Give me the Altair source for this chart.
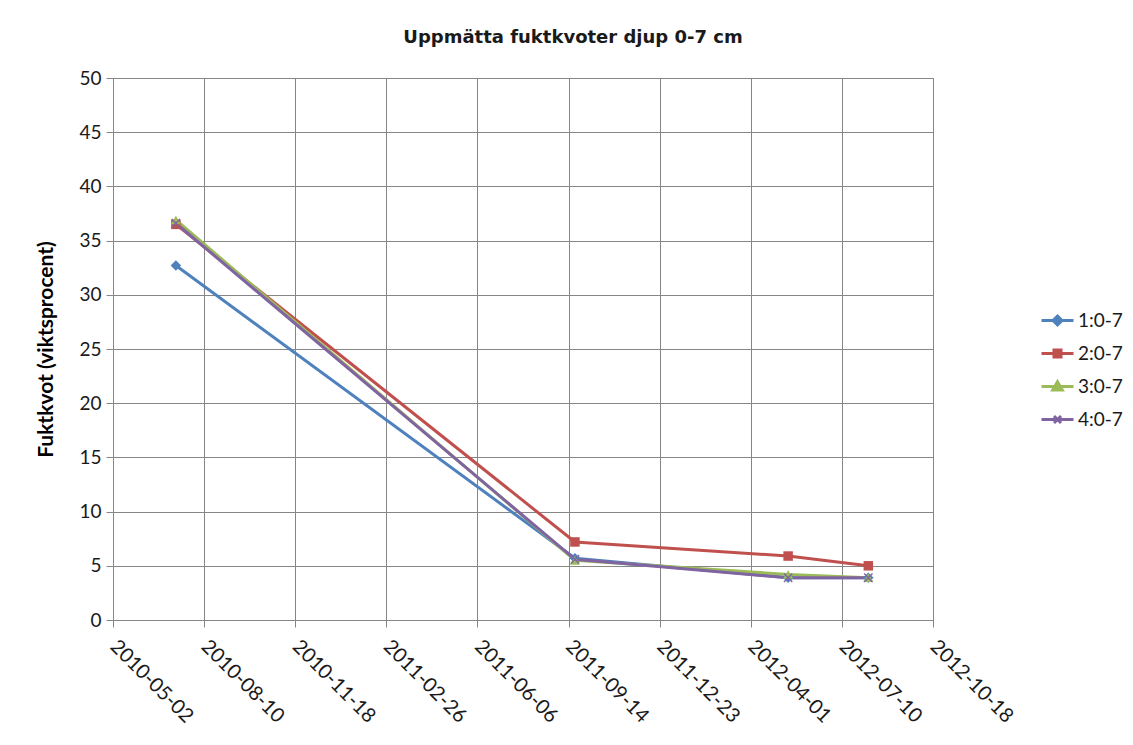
import json
import pandas as pd
import altair as alt

series_names = ["1:0-7", "2:0-7", "3:0-7", "4:0-7"]
dates = ["2010-07-10", "2011-09-21", "2012-05-12", "2012-08-08"]
s1 = [32.7, 5.7, 3.9, 3.9]
s2 = [36.5, 7.2, 5.9, 5.0]
s3 = [36.9, 5.5, 4.2, 3.9]
s4 = [36.6, 5.6, 3.9, 3.9]
tick_labels = ["2010-05-02", "2010-08-10", "2010-11-18", "2011-02-26", "2011-06-06",
               "2011-09-14", "2011-12-23", "2012-04-01", "2012-07-10", "2012-10-18"]
colors = ["#4F81BD", "#C0504D", "#9BBB59", "#8064A2"]

origin = pd.Timestamp(tick_labels[0])
rows = []
for name, vals in zip(series_names, [s1, s2, s3, s4]):
    for d, v in zip(dates, vals):
        rows.append({"series": name, "date": d,
                     "day": (pd.Timestamp(d) - origin).days, "value": v})
df = pd.DataFrame(rows)

FONT = "Lato"
GRID = "#868686"
TXT = "#1a1a1a"
color_scale = alt.Scale(domain=series_names, range=colors)
tick_vals = [i * 100 for i in range(len(tick_labels))]
label_expr = json.dumps(tick_labels) + "[round(datum.value/100)]"

x_enc = alt.X("day:Q", scale=alt.Scale(domain=[0, 900], nice=False, zero=False),
              axis=alt.Axis(values=tick_vals, labelExpr=label_expr, title=None,
                            labelAngle=45, labelAlign="left", labelBaseline="middle",
                            labelPadding=16, tickSize=7, grid=True, labelOverlap=False,
                            labelFlush=False, labelFontSize=20))
y_enc = alt.Y("value:Q", scale=alt.Scale(domain=[0, 50], nice=False),
              axis=alt.Axis(values=list(range(0, 51, 5)), title="Fuktkvot (viktsprocent)",
                            tickSize=7, labelPadding=5, titlePadding=22, grid=True))

leg = alt.Legend(title=None, orient="none", legendX=927, legendY=225,
                 symbolSize=1024, symbolStrokeWidth=3, symbolOpacity=1,
                 labelFont=FONT, labelFontSize=19, labelColor=TXT,
                 rowPadding=5, labelOffset=3)
color_enc = alt.Color("series:N", scale=color_scale, legend=leg)

base = alt.Chart(df).encode(x=x_enc, y=y_enc)

lines = base.mark_line(strokeWidth=3).encode(color=color_enc)

shape_map = {
    "1:0-7": ("diamond", True, 110),
    "2:0-7": ("square", True, 90),
    "3:0-7": ("triangle-up", True, 100),
    "4:0-7": ("M-1,-1L1,1M-1,1L1,-1", False, 70),
}
point_layers = []
for name in series_names:
    shp, filled, sz = shape_map[name]
    point_layers.append(
        base.transform_filter(alt.datum.series == name)
        .mark_point(shape=shp, filled=filled, size=sz, opacity=1, strokeWidth=1.5)
        .encode(color=color_enc)
    )

legend_shapes = [
    "M-1,0H1M0,-0.28L0.28,0L0,0.28L-0.28,0Z",
    "M-1,0H1M-0.22,-0.22H0.22V0.22H-0.22Z",
    "M-1,0H1M0,-0.3L0.3,0.22H-0.3Z",
    "M-1,0H1M-0.22,-0.22L0.22,0.22M-0.22,0.22L0.22,-0.22",
]
legend_layer = base.mark_point(opacity=0, filled=True, size=1024).encode(
    color=color_enc,
    shape=alt.Shape("series:N", scale=alt.Scale(domain=series_names, range=legend_shapes), legend=leg),
)

chart = alt.layer(lines, *point_layers, legend_layer).properties(
    width=820, height=542,
    background="white",
    title=alt.TitleParams("Uppmätta fuktkvoter djup 0-7 cm", font="DejaVu Sans", fontSize=18,
                          fontWeight="bold", color=TXT, anchor="middle",
                          dx=50, offset=22),
    autosize=alt.AutoSizeParams(type="none"),
    padding={"left": 105, "top": 70, "right": 192, "bottom": 117},
).configure_view(stroke=GRID, strokeWidth=1).configure_axis(
    gridColor=GRID, gridWidth=1, gridOpacity=1, domainColor=GRID, tickColor=GRID,
    labelFont=FONT, labelFontSize=19, labelColor=TXT,
    titleFont=FONT, titleFontSize=21, titleFontWeight="bold", titleColor="#000000",
)

chart.save("out.html", embed_options={"renderer": "svg", "actions": False})
